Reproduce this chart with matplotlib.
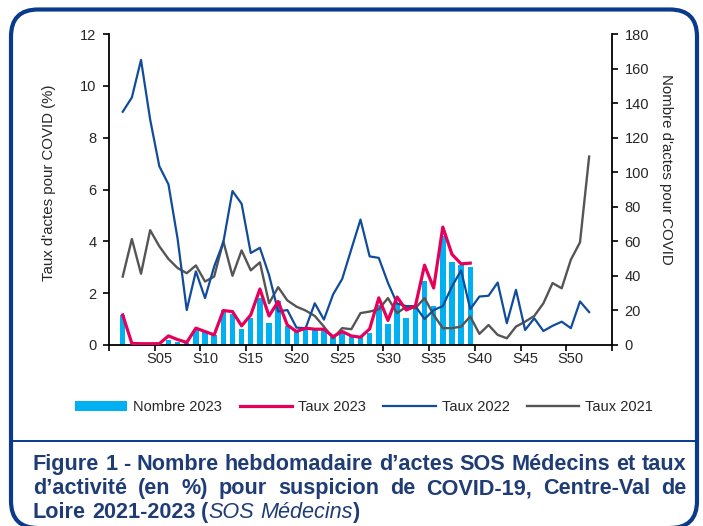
import matplotlib
matplotlib.use('Agg')
import matplotlib.pyplot as plt
from matplotlib.patches import FancyBboxPatch
from matplotlib.lines import Line2D
from matplotlib.transforms import IdentityTransform
import numpy as np

plt.rcParams['font.family'] = ['Liberation Sans', 'DejaVu Sans']

# weekly data
weeks_all = list(range(1, 53))
weeks_2023 = list(range(1, 40))

nombre_2023 = [17.4, 0, 0, 0, 0.5, 3, 1.5, 1, 8.5, 7.5, 5.5, 20, 18, 9, 15.5, 27, 12.8,
               25.5, 11, 8.5, 9, 9, 8.5, 4.5, 7.5, 5, 4.5, 7, 23, 12, 24, 15.5, 21, 37,
               22.5, 63, 48, 46.5, 45]
taux_2023 = [1.16, 0.06, 0.05, 0.05, 0.05, 0.35, 0.21, 0.1, 0.65, 0.52, 0.39, 1.33, 1.29,
             0.74, 1.16, 2.16, 1.12, 1.68, 0.77, 0.52, 0.65, 0.61, 0.61, 0.32, 0.52, 0.35,
             0.3, 0.62, 1.82, 0.95, 1.85, 1.35, 1.5, 3.08, 2.2, 4.55, 3.5, 3.13, 3.16]
taux_2022 = [9.0, 9.55, 11.0, 8.7, 6.9, 6.2, 4.1, 1.35, 2.84, 1.81, 3.03, 3.96, 5.94, 5.45,
             3.55, 3.75, 2.7, 1.29, 1.35, 0.67, 0.65, 1.61, 0.98, 1.95, 2.55, 3.7, 4.84,
             3.42, 3.36, 2.4, 1.6, 1.5, 1.5, 1.0, 1.35, 1.5, 2.26, 2.88, 1.38, 1.87, 1.9,
             2.41, 0.84, 2.13, 0.58, 1.03, 0.54, 0.74, 0.9, 0.65, 1.68, 1.27]
taux_2021 = [2.64, 4.09, 2.75, 4.43, 3.81, 3.32, 2.97, 2.77, 3.07, 2.45, 2.64, 4.0, 2.67,
             3.65, 2.88, 3.19, 1.61, 2.23, 1.72, 1.48, 1.33, 1.12, 0.71, 0.26, 0.65, 0.61,
             1.23, 1.29, 1.38, 1.81, 1.23, 1.48, 1.42, 1.81, 1.16, 0.65, 0.65, 0.71, 1.1,
             0.43, 0.77, 0.39, 0.26, 0.71, 0.9, 1.12, 1.61, 2.39, 2.19, 3.29, 3.96, 7.27]

label_weeks = [5, 10, 15, 20, 25, 30, 35, 40, 45, 50]
week_labels = ['S%02d' % w for w in label_weeks]

cyan = '#00B0F0'
pink = '#E6005C'
blue = '#114C9C'
grey = '#555555'
navy = '#1F3C74'
frame = '#0A3A8C'
txtc = '#262626'

W, H = 703, 526
fig = plt.figure(figsize=(W / 100, H / 100), dpi=100)

def fx(px):
    return px / W

def fy(py):
    return 1 - py / H

ax = fig.add_axes([fx(109), fy(345), fx(612) - fx(109), fy(34) - fy(345)])
ax2 = ax.twinx()

ax2.bar(weeks_2023, nombre_2023, width=0.6, color=cyan, label='Nombre 2023')
l23, = ax.plot(weeks_2023, taux_2023, color=pink, lw=2.3, label='Taux 2023', zorder=4)
l22, = ax.plot(weeks_all, taux_2022, color=blue, lw=1.6, label='Taux 2022', zorder=3)
l21, = ax.plot(weeks_all, taux_2021, color=grey, lw=1.7, label='Taux 2021', zorder=2)

ax.set_zorder(ax2.get_zorder() + 1)
ax.patch.set_visible(False)

ax.set_xlim(-0.5, 54.5)
ax.set_ylim(0, 12)
ax2.set_ylim(0, 180)
ax.set_yticks(np.arange(0, 13, 2))
ax2.set_yticks(np.arange(0, 181, 20))

ax.set_xticks(np.arange(-0.5, 55, 5))
ax.set_xticklabels([])
ax.set_xticks(label_weeks, minor=True)
ax.set_xticklabels(week_labels, minor=True)
ax.tick_params(axis='x', which='major', direction='out', length=4, width=1.2)
ax.tick_params(axis='x', which='minor', length=0, pad=5, labelsize=10.5, labelcolor=txtc)
ax.tick_params(axis='y', direction='out', length=4, width=1.2, pad=5, labelsize=10.5,
               labelcolor=txtc)
ax2.tick_params(axis='y', direction='out', length=4, width=1.2, pad=5, labelsize=10.5,
                labelcolor=txtc)

for s in ['top', 'right']:
    ax.spines[s].set_visible(False)
for s in ['top', 'left', 'bottom']:
    ax2.spines[s].set_visible(False)
for sp in [ax.spines['left'], ax.spines['bottom'], ax2.spines['right']]:
    sp.set_linewidth(1.3)
    sp.set_color('black')

fig.text(fx(49), fy(183), "Taux d'actes pour COVID (%)", rotation=90, ha='center',
         va='center', fontsize=10.8, color=txtc)
fig.text(fx(666), fy(169), "Nombre d'actes pour COVID", rotation=-90, ha='center',
         va='center', fontsize=10.8, color=txtc)

h_bar = ax2.containers[0]
fig.legend([h_bar, l23, l22, l21], ['Nombre 2023', 'Taux 2023', 'Taux 2022', 'Taux 2021'],
           loc='center', bbox_to_anchor=(fx(364), fy(407)), ncol=4, frameon=False,
           fontsize=10.5, handlelength=3.6, handletextpad=0.4, columnspacing=1.2,
           labelcolor=txtc)

# frame around the figure
box = FancyBboxPatch((11, -2), 686, H - 9.5 + 2, boxstyle='round,pad=0,rounding_size=27',
                     transform=IdentityTransform(), lw=3, ec=frame, fc='none')
fig.add_artist(box)
fig.add_artist(Line2D([fx(11), fx(697)], [fy(441), fy(441)], color=frame, lw=1.4))

# caption, justified by hand
renderer = fig.canvas.get_renderer()
cap_size = 15.6

def space_width(weight, style):
    a = fig.text(0, 0, 'a a', fontsize=cap_size, fontweight=weight, fontstyle=style)
    b = fig.text(0, 0, 'aa', fontsize=cap_size, fontweight=weight, fontstyle=style)
    w = a.get_window_extent(renderer).width - b.get_window_extent(renderer).width
    a.remove()
    b.remove()
    return w

def put_line(pieces, y, x0, x1=None):
    arts = []
    for txt, weight, style, gap in pieces:
        t = fig.text(0, fy(y), txt, fontsize=cap_size, fontweight=weight, fontstyle=style,
                     color=navy, ha='left', va='baseline')
        arts.append(t)
    widths = [a.get_window_extent(renderer).width for a in arts]
    ngaps = sum(1 for p in pieces[:-1] if p[3])
    if x1 is not None and ngaps:
        sp = (x1 - x0 - sum(widths)) / ngaps
    else:
        sp = space_width('bold', 'normal')
    x = x0
    for a, w, p in zip(arts, widths, pieces):
        a.set_x(fx(x))
        x += w + (sp if p[3] else 0)

line1 = 'Figure 1 - Nombre hebdomadaire d’actes SOS Médecins et taux'.split()
line2 = 'd’activité (en %) pour suspicion de COVID-19, Centre-Val de'.split()
put_line([(w, 'bold', 'normal', True) for w in line1], 470, 33, 686)
put_line([(w, 'bold', 'normal', True) for w in line2], 494, 33, 686)
put_line([('Loire', 'bold', 'normal', True), ('2021-2023', 'bold', 'normal', True),
          ('(', 'bold', 'normal', False), ('SOS', 'normal', 'italic', True),
          ('Médecins', 'normal', 'italic', False), (')', 'bold', 'normal', False)], 518, 33)

fig.savefig('out.png', dpi=100)
